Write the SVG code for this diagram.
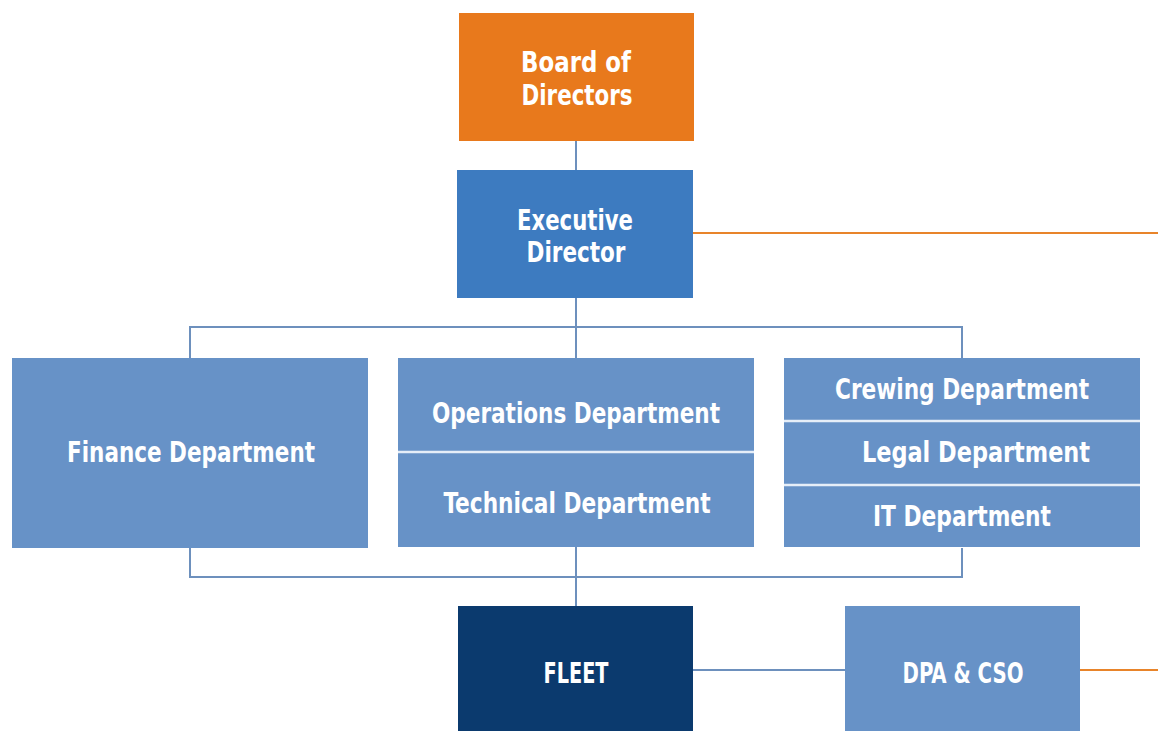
<svg xmlns="http://www.w3.org/2000/svg" width="1158" height="731" viewBox="0 0 1158 731">
<style>
.t{font-family:'DejaVu Sans Condensed','DejaVu Sans','Liberation Sans',sans-serif;font-stretch:condensed;font-weight:bold;font-size:28.5px;fill:#ffffff;}
.c{fill:none;stroke:#6d90bd;stroke-width:2;}
.o{fill:none;stroke:#e8842a;stroke-width:2;}
.d{stroke:#e6eef8;stroke-width:2.5;}
</style>
<rect width="1158" height="731" fill="#ffffff"/>
<g id="connectors">
<line class="c" x1="576" y1="141" x2="576" y2="170"/>
<line class="c" x1="576" y1="298" x2="576" y2="358"/>
<polyline class="c" points="190,358 190,327 962,327 962,358"/>
<polyline class="c" points="190,548 190,577 962,577 962,548"/>
<line class="c" x1="576" y1="547" x2="576" y2="606"/>
<line class="c" x1="693" y1="670" x2="845" y2="670"/>
<line class="o" x1="693" y1="233" x2="1158" y2="233"/>
<line class="o" x1="1080" y1="670" x2="1158" y2="670"/>
</g>
<g id="board">
<rect x="459" y="13" width="235" height="128" fill="#e8791c"/>
<text class="t" x="576" y="72" text-anchor="middle" textLength="110" lengthAdjust="spacingAndGlyphs">Board of</text>
<text class="t" x="577" y="105" text-anchor="middle" textLength="111" lengthAdjust="spacingAndGlyphs">Directors</text>
</g>
<g id="executive">
<rect x="457" y="170" width="236" height="128" fill="#3d7bc0"/>
<text class="t" x="575" y="230" text-anchor="middle" textLength="116" lengthAdjust="spacingAndGlyphs">Executive</text>
<text class="t" x="576" y="262" text-anchor="middle" textLength="99" lengthAdjust="spacingAndGlyphs">Director</text>
</g>
<g id="finance">
<rect x="12" y="358" width="356" height="190" fill="#6792c7"/>
<text class="t" x="191" y="462" text-anchor="middle" textLength="248" lengthAdjust="spacingAndGlyphs">Finance Department</text>
</g>
<g id="ops-tech">
<rect x="398" y="358" width="356" height="189" fill="#6792c7"/>
<line class="d" x1="398" y1="452" x2="754" y2="452"/>
<text class="t" x="576" y="423" text-anchor="middle" textLength="288" lengthAdjust="spacingAndGlyphs">Operations Department</text>
<text class="t" x="577" y="513" text-anchor="middle" textLength="267" lengthAdjust="spacingAndGlyphs">Technical Department</text>
</g>
<g id="crewing-legal-it">
<rect x="784" y="358" width="356" height="189" fill="#6792c7"/>
<line class="d" x1="784" y1="421" x2="1140" y2="421"/>
<line class="d" x1="784" y1="485" x2="1140" y2="485"/>
<text class="t" x="962" y="399" text-anchor="middle" textLength="254" lengthAdjust="spacingAndGlyphs">Crewing Department</text>
<text class="t" x="976" y="462" text-anchor="middle" textLength="228" lengthAdjust="spacingAndGlyphs">Legal Department</text>
<text class="t" x="962" y="526" text-anchor="middle" textLength="178" lengthAdjust="spacingAndGlyphs">IT Department</text>
</g>
<g id="fleet">
<rect x="458" y="606" width="235" height="125" fill="#0b3a6e"/>
<text class="t" x="576" y="683" text-anchor="middle" textLength="65" lengthAdjust="spacingAndGlyphs">FLEET</text>
</g>
<g id="dpa-cso">
<rect x="845" y="606" width="235" height="125" fill="#6792c7"/>
<text class="t" x="963" y="683" text-anchor="middle" textLength="121" lengthAdjust="spacingAndGlyphs">DPA &amp; CSO</text>
</g>
</svg>
